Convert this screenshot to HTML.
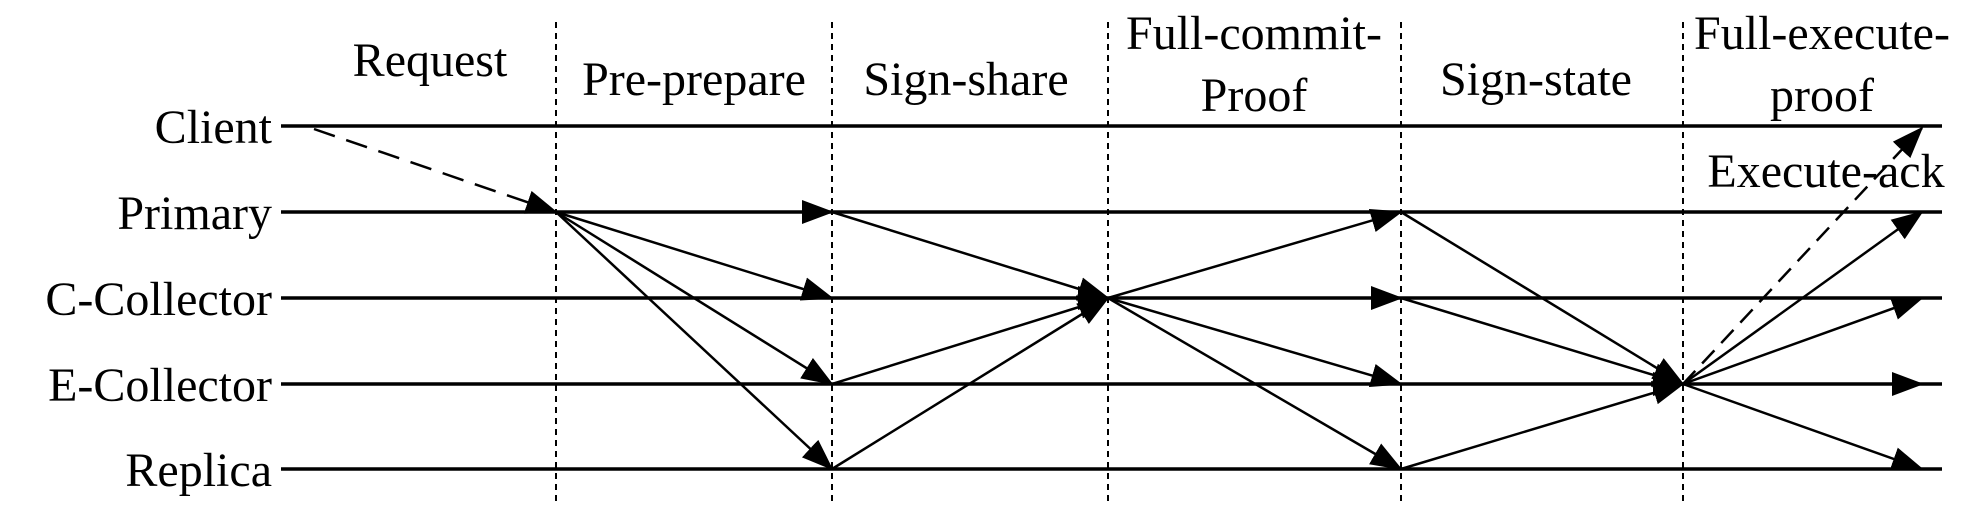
<!DOCTYPE html>
<html><head><style>body{margin:0;background:#fff}svg{display:block}</style></head><body>
<svg width="1963" height="519" viewBox="0 0 1963 519" xmlns="http://www.w3.org/2000/svg" font-family="'Liberation Serif', serif" font-size="48">
<defs><marker id="a" markerUnits="userSpaceOnUse" markerWidth="32" markerHeight="24" refX="30" refY="12" orient="auto"><path d="M0,0 L32,12 L0,24 Z" fill="#000"/></marker></defs>
<g stroke="#000" stroke-width="2" stroke-dasharray="6,5">
<line x1="556" y1="22" x2="556" y2="505"/><line x1="832" y1="22" x2="832" y2="505"/><line x1="1108" y1="22" x2="1108" y2="505"/><line x1="1401" y1="22" x2="1401" y2="505"/><line x1="1683" y1="22" x2="1683" y2="505"/>
</g>
<g stroke="#000" stroke-width="3.5">
<line x1="281" y1="126" x2="1942" y2="126"/><line x1="281" y1="212" x2="1942" y2="212"/><line x1="281" y1="298" x2="1942" y2="298"/><line x1="281" y1="384" x2="1942" y2="384"/><line x1="281" y1="469" x2="1942" y2="469"/>
</g>
<g stroke="#000" stroke-width="2.5" fill="none" marker-end="url(#a)">
<line x1="314" y1="129" x2="556" y2="212" stroke-dasharray="22,12"/>
<line x1="556" y1="212" x2="832" y2="212"/><line x1="556" y1="212" x2="832" y2="298"/><line x1="556" y1="212" x2="832" y2="384"/><line x1="556" y1="212" x2="832" y2="469"/>
<line x1="832" y1="212" x2="1108" y2="298"/><line x1="832" y1="384" x2="1108" y2="298"/><line x1="832" y1="469" x2="1108" y2="298"/><line x1="832" y1="298" x2="1108" y2="298"/>
<line x1="1108" y1="298" x2="1401" y2="212"/><line x1="1108" y1="298" x2="1401" y2="298"/><line x1="1108" y1="298" x2="1401" y2="384"/><line x1="1108" y1="298" x2="1401" y2="469"/>
<line x1="1401" y1="212" x2="1683" y2="384"/><line x1="1401" y1="298" x2="1683" y2="384"/><line x1="1401" y1="384" x2="1683" y2="384"/><line x1="1401" y1="469" x2="1683" y2="384"/>
<line x1="1683" y1="384" x2="1922" y2="128" stroke-dasharray="18,10"/>
<line x1="1683" y1="384" x2="1922" y2="212"/><line x1="1683" y1="384" x2="1922" y2="298"/><line x1="1683" y1="384" x2="1922" y2="384"/><line x1="1683" y1="384" x2="1922" y2="469"/>
</g>
<g text-anchor="end">
<text x="272" y="143">Client</text><text x="272" y="229">Primary</text><text x="272" y="315">C-Collector</text><text x="272" y="401">E-Collector</text><text x="272" y="486">Replica</text>
</g>
<g text-anchor="middle">
<text x="430" y="76">Request</text><text x="694" y="95">Pre-prepare</text><text x="966" y="95">Sign-share</text>
<text x="1254" y="49">Full-commit-</text><text x="1254" y="111">Proof</text><text x="1536" y="95">Sign-state</text>
<text x="1822" y="49">Full-execute-</text><text x="1822" y="111">proof</text><text x="1826" y="187">Execute-ack</text>
</g>
</svg>
</body></html>
